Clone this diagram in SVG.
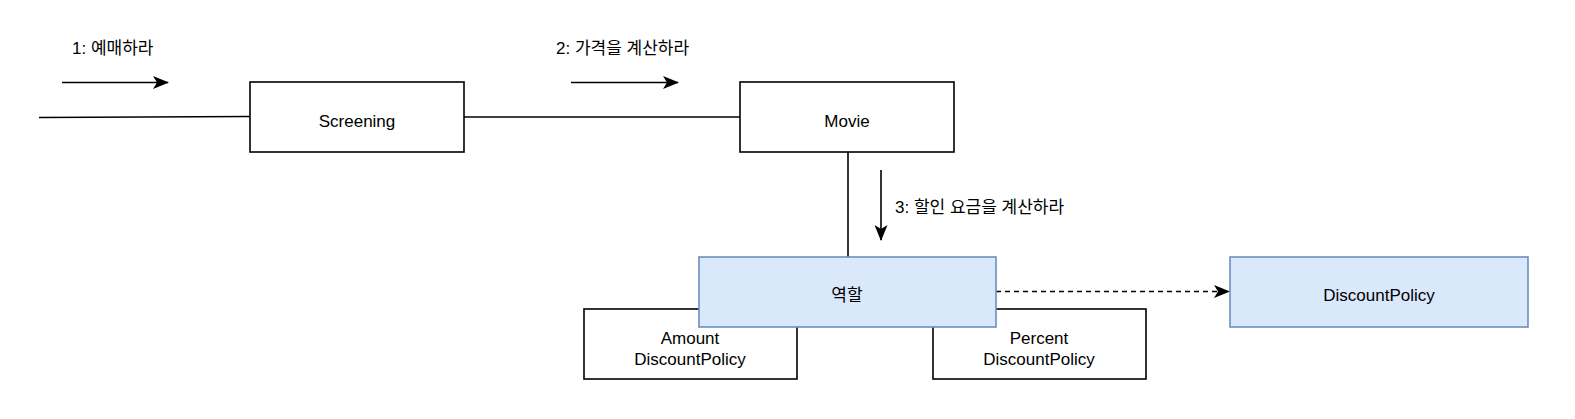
<svg xmlns="http://www.w3.org/2000/svg" width="1575" height="419" viewBox="0 0 1575 419">
<style>
.box{fill:#ffffff;stroke:#000000;stroke-width:1.6}
.blue{fill:#dae8fc;stroke:#6c8ebf;stroke-width:1.6}
.t{font-family:"Liberation Sans","Noto Sans CJK KR",sans-serif;font-size:17px;fill:#000000}
.c{text-anchor:middle;dominant-baseline:central}
.ln{stroke:#000000;stroke-width:1.6;fill:none}
</style>
<defs>
<marker id="arr" viewBox="0 0 16 13" refX="15" refY="6.5" markerWidth="16" markerHeight="13" markerUnits="userSpaceOnUse" orient="auto">
<path d="M0,0 L16,6.5 L0,13 L4,6.5 Z" fill="#000000"/>
</marker>
</defs>
<rect width="1575" height="419" fill="#ffffff"/>
<g id="connectors">
<line class="ln" x1="39" y1="117.5" x2="250" y2="116.5"/>
<line class="ln" x1="464" y1="117" x2="740" y2="117"/>
<line class="ln" x1="848" y1="152" x2="848" y2="257"/>
<line class="ln" x1="996" y1="291.5" x2="1229" y2="291.5" stroke-dasharray="5,4" marker-end="url(#arr)"/>
<line class="ln" x1="62" y1="82.5" x2="168" y2="82.5" marker-end="url(#arr)"/>
<line class="ln" x1="571" y1="82.5" x2="678" y2="82.5" marker-end="url(#arr)"/>
<line class="ln" x1="881" y1="170" x2="881" y2="240" marker-end="url(#arr)"/>
<text class="t" x="72" y="54">1: 예매하라</text>
<text class="t" x="556" y="54">2: 가격을 계산하라</text>
<text class="t" x="895" y="213">3: 할인 요금을 계산하라</text>
</g>
<g id="screening">
<rect class="box" x="250" y="82" width="214" height="70"/>
<text class="t c" x="357" y="121">Screening</text>
</g>
<g id="movie">
<rect class="box" x="740" y="82" width="214" height="70"/>
<text class="t c" x="847" y="121">Movie</text>
</g>
<g id="amount">
<rect class="box" x="584" y="309" width="213" height="70"/>
<text class="t c" x="690" y="338">Amount</text>
<text class="t c" x="690" y="359">DiscountPolicy</text>
</g>
<g id="percent">
<rect class="box" x="933" y="309" width="213" height="70"/>
<text class="t c" x="1039" y="338">Percent</text>
<text class="t c" x="1039" y="359">DiscountPolicy</text>
</g>
<g id="role">
<rect class="blue" x="699" y="257" width="297" height="70"/>
<text class="t c" x="847" y="295">역할</text>
</g>
<g id="discountpolicy">
<rect class="blue" x="1230" y="257" width="298" height="70"/>
<text class="t c" x="1379" y="295">DiscountPolicy</text>
</g>
</svg>
